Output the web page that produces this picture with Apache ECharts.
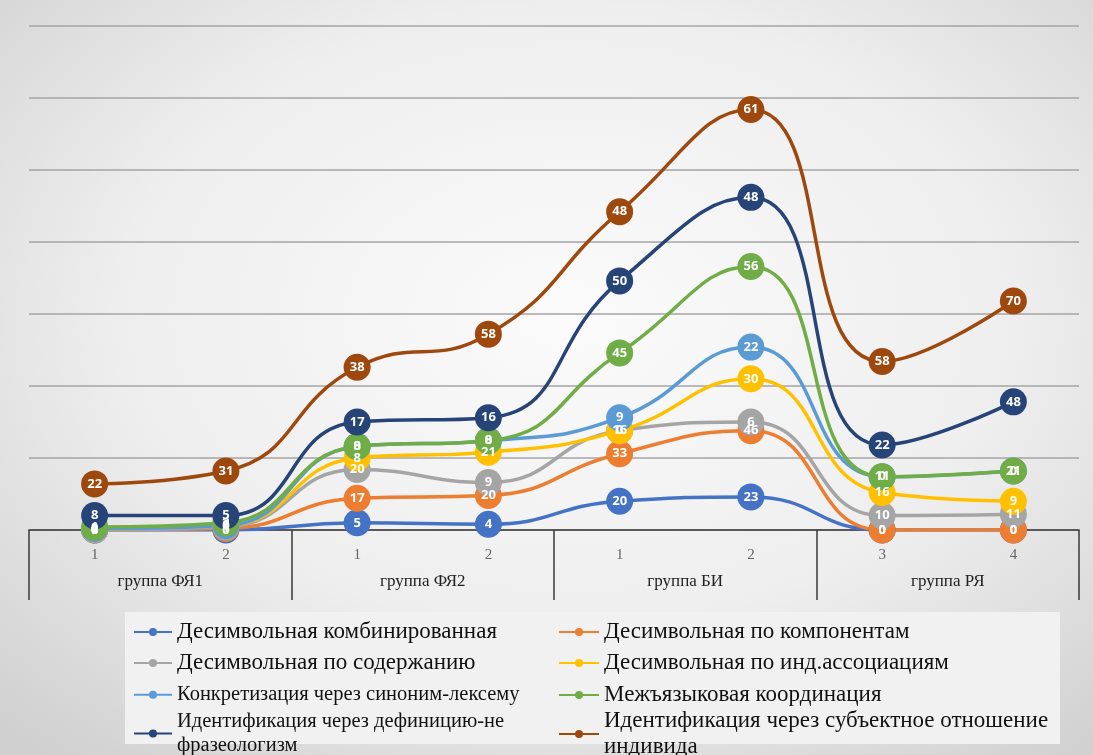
<!DOCTYPE html>
<html><head><meta charset="utf-8">
<script src="https://cdn.jsdelivr.net/npm/echarts@6/dist/echarts.min.js"></script>
<style>
html,body{margin:0;padding:0;}
body{width:1093px;height:755px;background:radial-gradient(ellipse 75% 75% at 52% 42%, #fbfbfb 0%, #eeeeee 55%, #d0d0d0 100%);}
#c{width:1093px;height:755px;}
</style></head><body>
<div id="c"></div>
<script>
const categories = ["1","2","1","2","1","2","3","4"];
const groups = ["группа ФЯ1","группа ФЯ2","группа БИ","группа РЯ"];
const names = [
  "Десимвольная комбинированная",
  "Десимвольная по компонентам",
  "Десимвольная по содержанию",
  "Десимвольная по инд.ассоциациям",
  "Конкретизация через синоним-лексему",
  "Межъязыковая координация",
  "Идентификация через дефиницию-не фразеологизм",
  "Идентификация через субъектное отношение индивида"
];
const combined   = [0,0,5,4,20,23,0,0];
const components = [0,1,17,20,33,46,0,0];
const content    = [0,1,20,9,16,6,10,11];
const assoc      = [1,1,8,21,0,30,16,9];
const synonym    = [0,0,8,8,9,22,11,21];
const interlang  = [1,2,0,0,45,56,0,0];
const definition = [8,5,17,16,50,48,22,48];
const subject    = [22,31,38,58,48,61,58,70];
const yTicks = [0,50,100,150,200,250,300,350];

const seriesData = [combined,components,content,assoc,synonym,interlang,definition,subject];
const colors = ["#4472C4","#ED7D31","#A5A5A5","#FFC000","#5B9BD5","#70AD47","#264478","#9E480E"];

const series = seriesData.map((d,i)=>({
  name: names[i], type:'line', stack:'total', data:d, smooth:0.5,
  xAxisIndex:0, yAxisIndex:0,
  symbol:'circle', symbolSize:27,
  lineStyle:{width:3.5,color:colors[i]},
  itemStyle:{color:colors[i]},
  label:{show:true,position:'inside',color:'#fff',fontSize:13,fontWeight:'bold',fontFamily:'Open Sans'},
  emphasis:{disabled:true}
}));

// legend layout
const legPos = [
  {left:128, top:614, fs:23, wrap:null},
  {left:553, top:614, fs:23, wrap:null},
  {left:128, top:645, fs:23, wrap:null},
  {left:553, top:645, fs:23, wrap:null},
  {left:128, top:678, fs:20.5, wrap:null},
  {left:553, top:677, fs:23, wrap:null},
  {left:128, top:705, fs:20.5, wrap:"Идентификация через дефиницию-не\nфразеологизм"},
  {left:553, top:703, fs:23, wrap:"Идентификация через субъектное отношение\nиндивида"}
];
const legends = legPos.map((p,i)=>({
  left:p.left, top:p.top, data:[names[i]], orient:'horizontal',
  itemWidth: i%2===0 ? 38 : 40, itemHeight:10, itemGap:0,
  selectedMode:false,
  formatter: ()=> p.wrap || names[i],
  textStyle:{fontFamily:'Liberation Serif',fontSize:p.fs,color:'#111',lineHeight:p.fs+3}
}));

const chart = echarts.init(document.getElementById('c'),null,{renderer:'canvas'});
chart.setOption({
  animation:false,
  backgroundColor:'transparent',
  color:colors,
  graphic:[{type:'rect',shape:{x:125,y:612,width:935,height:132},style:{fill:'#f1f1f1'},z:-1}],
  legend:legends,
  grid:{left:29,right:14,top:26,bottom:225,containLabel:false},
  xAxis:[
    {type:'category',data:categories,boundaryGap:true,
     axisLine:{show:true,lineStyle:{color:'#3a3a3a',width:1.5}},
     axisTick:{show:false},
     axisLabel:{color:'#666',fontFamily:'Liberation Serif',fontSize:15,margin:18}},
    {type:'category',data:groups,position:'bottom',boundaryGap:true,
     axisLine:{show:false},
     axisTick:{show:true,length:70,interval:0,lineStyle:{color:'#3a3a3a',width:1.5}},
     axisLabel:{color:'#222',fontFamily:'Liberation Serif',fontSize:17,margin:43,interval:0}}
  ],
  yAxis:{type:'value',min:yTicks[0],max:yTicks[yTicks.length-1],interval:50,
    axisLine:{show:false},axisTick:{show:false},axisLabel:{show:false},
    splitLine:{show:true,lineStyle:{color:'#a4a4a4',width:1.6}}},
  series:series
});
</script>
</body></html>
